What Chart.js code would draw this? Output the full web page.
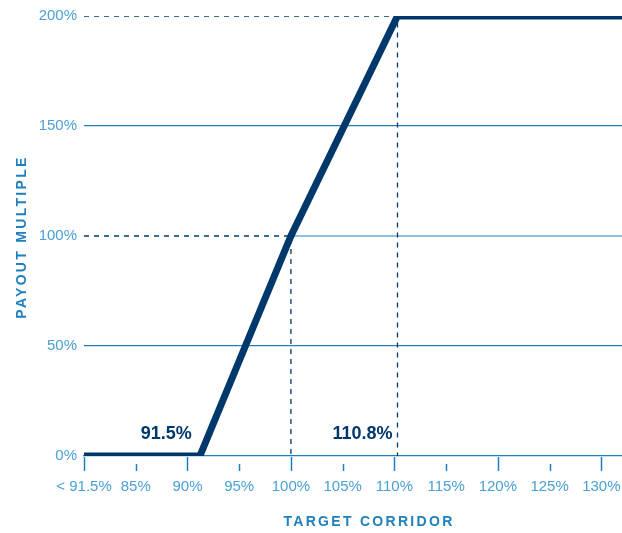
<!DOCTYPE html>
<html>
<head>
<meta charset="utf-8">
<script src="https://cdn.jsdelivr.net/npm/chart.js@4"></script>
<style>
  html, body { margin: 0; padding: 0; background: #fff; }
  #wrap { width: 622px; height: 533px; }
</style>
</head>
<body>
<div id="wrap"><canvas id="grafico" width="622" height="533"></canvas></div>
<script>
// dados do gráfico
const corridor = [80, 91.2, 100, 110.3, 132];
const payout = [0, 0, 100, 200, 200];
const xTicks = [80, 85, 90, 95, 100, 105, 110, 115, 120, 125, 130];
const xTickLabels = ['< 91.5%', '85%', '90%', '95%', '100%', '105%', '110%', '115%', '120%', '125%', '130%'];
const yTicks = [0, 50, 100, 150, 200];
const breakLabels = ['91.5%', '110.8%'];
const breakX = [91.2, 110.3];

const navy = '#00386b';
const blue = '#1f80bd';
const lightBlue = '#4aa0d4';

const pontos = corridor.map((x, i) => ({ x: x, y: payout[i] }));

// plugin que desenha os traços do eixo x, os rótulos e os títulos
const extras = {
    id: 'extras',
    afterDraw(chart) {
        const ctx = chart.ctx;
        const xs = chart.scales.x;
        const ys = chart.scales.y;
        const base = ys.getPixelForValue(0) + 1;
        ctx.save();
        ctx.strokeStyle = blue;
        ctx.lineWidth = 1.5;
        xTicks.forEach(v => {
            const px = Math.round(xs.getPixelForValue(v)) + 0.5;
            const major = (v - 80) % 10 === 0;
            ctx.beginPath();
            ctx.moveTo(px, major ? base : base + 7);
            ctx.lineTo(px, base + 14);
            ctx.stroke();
        });

        ctx.fillStyle = navy;
        ctx.font = 'bold 18px "Liberation Sans", Arial, sans-serif';
        ctx.textAlign = 'right';
        ctx.textBaseline = 'middle';
        ctx.fillText(breakLabels[0], xs.getPixelForValue(breakX[0]) - 8, 434);
        ctx.fillText(breakLabels[1], xs.getPixelForValue(breakX[1]) - 5, 434);

        ctx.fillStyle = blue;
        ctx.font = 'bold 14px "Liberation Sans", Arial, sans-serif';
        ctx.letterSpacing = '2.3px';
        ctx.textAlign = 'center';
        ctx.fillText('TARGET CORRIDOR', 369, 522);
        ctx.translate(22, 237);
        ctx.rotate(-Math.PI / 2);
        ctx.fillText('PAYOUT MULTIPLE', 0, 0);
        ctx.restore();
    }
};

const grafico = document.getElementById('grafico');
new Chart(grafico, {
    type: 'line',
    data: {
        datasets: [{
            data: pontos,
            borderColor: navy,
            borderWidth: 7,
            pointRadius: 0,
            borderJoinStyle: 'miter',
            borderCapStyle: 'butt',
            tension: 0
        }, {
            data: [{ x: 80, y: yTicks[2] }, { x: 100, y: yTicks[2] }, { x: 100, y: 0 }],
            borderColor: navy,
            borderWidth: 1.3,
            borderDash: [5, 5],
            pointRadius: 0
        }, {
            data: [{ x: 80, y: yTicks[4] }, { x: breakX[1], y: yTicks[4] }, { x: breakX[1], y: 0 }],
            borderColor: navy,
            borderWidth: 1.3,
            borderDash: [5, 5],
            pointRadius: 0
        }, {
            data: [{ x: 100, y: yTicks[2] }, { x: 132, y: yTicks[2] }],
            borderColor: blue,
            borderWidth: 1.2,
            pointRadius: 0
        }]
    },
    options: {
        responsive: false,
        animation: false,
        layout: { padding: { top: 16, right: 0, left: 0, bottom: 0 } },
        plugins: {
            legend: { display: false },
            tooltip: { enabled: false }
        },
        scales: {
            x: {
                type: 'linear',
                min: 80,
                max: 132,
                afterBuildTicks: scale => { scale.ticks = xTicks.map(v => ({ value: v })); },
                afterFit: scale => {
                    scale.height = 77;
                    scale.paddingLeft = 0;
                    scale.paddingRight = 0;
                },
                ticks: {
                    autoSkip: false,
                    maxRotation: 0,
                    padding: 22,
                    color: lightBlue,
                    font: { size: 15, family: '"Liberation Sans", Arial, sans-serif' },
                    callback: v => xTickLabels[xTicks.indexOf(v)]
                },
                grid: { display: false, drawTicks: false },
                border: { display: true, color: blue, width: 1.2 }
            },
            y: {
                min: 0,
                max: 200,
                afterBuildTicks: scale => { scale.ticks = yTicks.map(v => ({ value: v })); },
                afterFit: scale => {
                    scale.width = 84;
                    scale.paddingTop = 0;
                    scale.paddingBottom = 0;
                },
                ticks: {
                    padding: 7,
                    color: lightBlue,
                    font: { size: 15, family: '"Liberation Sans", Arial, sans-serif' },
                    callback: v => v + '%'
                },
                grid: {
                    drawTicks: false,
                    lineWidth: 1.2,
                    color: c => (c.tick && (c.tick.value === 50 || c.tick.value === 150)) ? blue : 'rgba(0,0,0,0)'
                },
                border: { display: false }
            }
        }
    },
    plugins: [extras]
});
</script>
</body>
</html>
